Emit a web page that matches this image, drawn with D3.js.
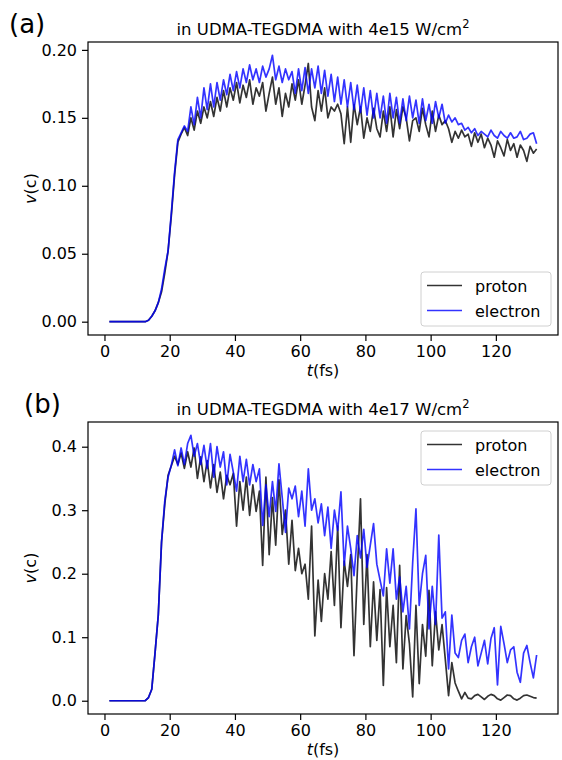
<!DOCTYPE html>
<html>
<head>
<meta charset="utf-8">
<script src="https://cdn.jsdelivr.net/npm/d3@7"></script>
<style>
body { margin: 0; background: #fff; }
text { font-family: "DejaVu Sans", sans-serif; fill: #000; }
</style>
</head>
<body>
<script>
// sampling: t = 1.5, 2.5, ... fs (one value per fs)
var tStart = 1.5, tStep = 1;

var protonA = [0,0,0,0,0,0,0,0,0,0,0,0,
  0.001,0.004,0.008,0.014,0.022,0.036,0.052,0.078,0.108,0.132,0.138,0.143,
  0.137,0.150,0.141,0.155,0.146,0.158,0.150,0.162,0.151,0.165,0.155,0.170,
  0.158,0.172,0.163,0.176,0.161,0.174,0.165,0.178,0.160,0.172,0.166,0.176,
  0.155,0.168,0.180,0.160,0.172,0.151,0.168,0.158,0.175,0.163,0.178,0.160,
  0.174,0.190,0.158,0.148,0.170,0.155,0.172,0.150,0.158,0.155,0.160,0.153,
  0.131,0.158,0.132,0.160,0.145,0.158,0.135,0.150,0.140,0.157,0.142,0.136,
  0.155,0.140,0.158,0.136,0.156,0.142,0.158,0.150,0.133,0.148,0.150,0.140,
  0.157,0.145,0.136,0.155,0.140,0.152,0.145,0.148,0.142,0.132,0.140,0.135,
  0.141,0.136,0.138,0.129,0.139,0.132,0.138,0.128,0.135,0.130,0.121,0.133,
  0.128,0.122,0.134,0.126,0.131,0.121,0.130,0.126,0.118,0.129,0.124,0.127];

var electronA = [0,0,0,0,0,0,0,0,0,0,0,0,
  0.001,0.004,0.008,0.014,0.024,0.039,0.052,0.080,0.110,0.134,0.139,0.144,
  0.140,0.158,0.145,0.165,0.150,0.172,0.156,0.175,0.158,0.176,0.163,0.178,
  0.167,0.182,0.170,0.184,0.172,0.186,0.176,0.189,0.178,0.186,0.176,0.188,
  0.180,0.186,0.196,0.178,0.188,0.176,0.186,0.178,0.184,0.168,0.186,0.170,
  0.187,0.168,0.186,0.172,0.188,0.168,0.185,0.166,0.182,0.162,0.180,0.160,
  0.178,0.158,0.176,0.156,0.174,0.154,0.172,0.152,0.170,0.150,0.168,0.150,
  0.166,0.146,0.168,0.150,0.165,0.146,0.164,0.148,0.166,0.150,0.163,0.146,
  0.164,0.148,0.160,0.146,0.162,0.150,0.160,0.146,0.152,0.147,0.150,0.145,
  0.146,0.141,0.143,0.139,0.142,0.137,0.140,0.138,0.136,0.141,0.137,0.135,
  0.140,0.137,0.135,0.139,0.135,0.136,0.140,0.134,0.135,0.138,0.139,0.131];

var protonB = [0,0,0,0,0,0,0,0,0,0,0,0,
  0.005,0.018,0.075,0.135,0.250,0.310,0.355,0.370,0.385,0.372,0.390,0.366,
  0.392,0.368,0.398,0.350,0.384,0.345,0.378,0.335,0.372,0.328,0.360,0.318,
  0.355,0.340,0.358,0.275,0.345,0.300,0.352,0.292,0.340,0.298,0.330,0.213,
  0.352,0.230,0.320,0.245,0.348,0.262,0.300,0.215,0.284,0.205,0.240,0.200,
  0.215,0.160,0.275,0.102,0.190,0.125,0.200,0.160,0.235,0.150,0.275,0.115,
  0.220,0.180,0.230,0.071,0.200,0.318,0.120,0.230,0.085,0.187,0.095,0.175,
  0.024,0.178,0.085,0.150,0.060,0.213,0.050,0.134,0.090,0.006,0.150,0.027,
  0.120,0.070,0.174,0.055,0.140,0.080,0.120,0.065,0.008,0.060,0.028,0.015,
  0.003,0.013,0.004,0.003,0.008,0.010,0.006,0.002,0.007,0.010,0.008,0.003,
  0.001,0.005,0.009,0.008,0.003,0.001,0.004,0.008,0.009,0.007,0.005,0.004];

var electronB = [0,0,0,0,0,0,0,0,0,0,0,0,
  0.005,0.018,0.075,0.135,0.250,0.315,0.352,0.371,0.395,0.370,0.398,0.372,
  0.405,0.418,0.385,0.405,0.372,0.402,0.366,0.405,0.352,0.400,0.368,0.392,
  0.340,0.388,0.360,0.330,0.385,0.345,0.380,0.340,0.372,0.345,0.365,0.276,
  0.340,0.290,0.345,0.298,0.373,0.320,0.265,0.335,0.318,0.338,0.290,0.330,
  0.275,0.365,0.300,0.318,0.280,0.310,0.260,0.305,0.240,0.300,0.268,0.329,
  0.213,0.275,0.240,0.197,0.260,0.225,0.270,0.210,0.245,0.279,0.215,0.190,
  0.165,0.239,0.185,0.239,0.160,0.195,0.140,0.180,0.113,0.218,0.302,0.150,
  0.200,0.229,0.113,0.180,0.120,0.261,0.130,0.140,0.050,0.135,0.075,0.068,
  0.095,0.105,0.060,0.085,0.100,0.055,0.075,0.095,0.058,0.098,0.115,0.025,
  0.117,0.090,0.060,0.080,0.085,0.045,0.029,0.075,0.087,0.060,0.036,0.072];

var xTicks = [0, 20, 40, 60, 80, 100, 120];
var yTicksA = [0, 0.05, 0.10, 0.15, 0.20];
var yTicksB = [0, 0.1, 0.2, 0.3, 0.4];
var seriesNames = ['proton', 'electron'];
var seriesColors = ['#000000', '#0000ff'];

var svg = d3.select('body').append('svg')
  .attr('width', 562)
  .attr('height', 760);

function toPoints(vals) {
  return vals.map(function (v, i) { return [tStart + i * tStep, v]; });
}

function drawPanel(p) {
  var left = 88, right = 558;
  var x = d3.scaleLinear().domain([-5.05, 139.05]).range([left, right]);
  var ymax = d3.max(p.data, function (s) { return d3.max(s); });
  var y = d3.scaleLinear().domain([-0.05 * ymax, 1.05 * ymax]).range([p.bottom, p.top]);

  var g = svg.append('g');

  // series
  var line = d3.line()
    .x(function (d) { return x(d[0]); })
    .y(function (d) { return y(d[1]); });
  p.data.forEach(function (vals, k) {
    g.append('path')
      .datum(toPoints(vals))
      .attr('d', line)
      .attr('fill', 'none')
      .attr('stroke', seriesColors[k])
      .attr('stroke-opacity', 0.8)
      .attr('stroke-width', 1.7)
      .attr('stroke-linejoin', 'round');
  });

  // frame
  g.append('rect')
    .attr('x', left).attr('y', p.top)
    .attr('width', right - left).attr('height', p.bottom - p.top)
    .attr('fill', 'none').attr('stroke', '#000').attr('stroke-width', 1.2);

  // axes
  var xa = g.append('g')
    .attr('transform', 'translate(0,' + p.bottom + ')')
    .call(d3.axisBottom(x).tickValues(xTicks).tickSize(6).tickSizeOuter(0).tickPadding(5));
  var ya = g.append('g')
    .attr('transform', 'translate(' + left + ',0)')
    .call(d3.axisLeft(y).tickValues(p.yTicks).tickFormat(d3.format(p.fmt)).tickSize(6).tickSizeOuter(0).tickPadding(5));
  [xa, ya].forEach(function (a) {
    a.select('.domain').remove();
    a.selectAll('text').style('font-size', '16px').attr('fill', '#000');
    a.selectAll('line').attr('stroke', '#000').attr('stroke-width', 1.2);
  });

  // labels
  var xl = g.append('text')
    .attr('x', (left + right) / 2).attr('y', p.bottom + 41)
    .attr('text-anchor', 'middle').style('font-size', '16px');
  xl.append('tspan').style('font-style', 'italic').text('t');
  xl.append('tspan').text('(fs)');

  var yl = g.append('text')
    .attr('transform', 'translate(36,' + (p.top + p.bottom) / 2 + ') rotate(-90)')
    .attr('text-anchor', 'middle').style('font-size', '16px');
  yl.append('tspan').style('font-style', 'italic').text('v');
  yl.append('tspan').text('(c)');

  var title = g.append('text')
    .attr('x', (left + right) / 2).attr('y', p.top - 7)
    .attr('text-anchor', 'middle').style('font-size', '16.5px');
  title.append('tspan').text(p.title);
  title.append('tspan').attr('dy', -7).style('font-size', '11.5px').text('2');

  g.append('text')
    .attr('x', p.tagX).attr('y', p.top - 9)
    .style('font-size', '26px').text(p.tag);

  // legend
  var lg = g.append('g').attr('transform', 'translate(' + 421 + ',' + p.legendTop + ')');
  lg.append('rect')
    .attr('width', 130).attr('height', 54).attr('rx', 3)
    .attr('fill', '#fff').attr('fill-opacity', 0.8)
    .attr('stroke', '#d0d0d0').attr('stroke-width', 1);
  seriesNames.forEach(function (name, k) {
    var cy = 13.5 + k * 25;
    lg.append('line')
      .attr('x1', 6).attr('x2', 41).attr('y1', cy).attr('y2', cy)
      .attr('stroke', seriesColors[k]).attr('stroke-opacity', 0.8).attr('stroke-width', 1.7);
    lg.append('text')
      .attr('x', 54).attr('y', cy + 6)
      .style('font-size', '16px').text(name);
  });
}

drawPanel({
  data: [protonA, electronA], top: 42, bottom: 335,
  yTicks: yTicksA, fmt: '.2f', title: 'in UDMA-TEGDMA with 4e15 W/cm',
  tag: '(a)', tagX: 9, legendTop: 272
});
drawPanel({
  data: [protonB, electronB], top: 422, bottom: 714,
  yTicks: yTicksB, fmt: '.1f', title: 'in UDMA-TEGDMA with 4e17 W/cm',
  tag: '(b)', tagX: 24, legendTop: 431
});
</script>
</body>
</html>
